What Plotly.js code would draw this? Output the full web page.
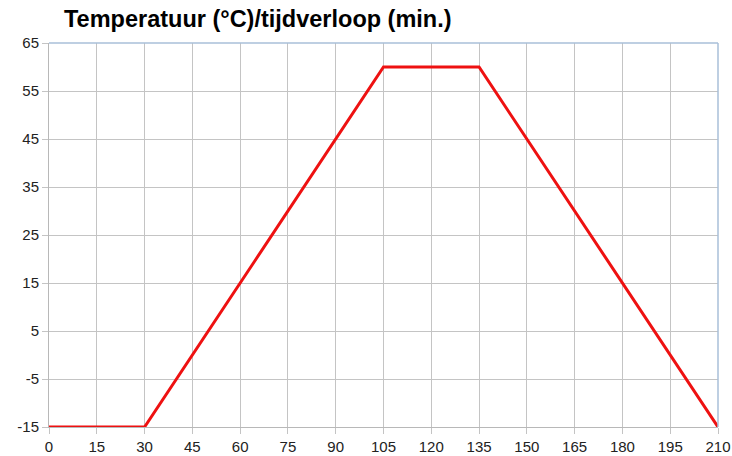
<!DOCTYPE html>
<html>
<head>
<meta charset="utf-8">
<script src="https://cdn.plot.ly/plotly-3.0.1.min.js"></script>
<style>html,body{margin:0;padding:0;background:#fff;}#chart{width:732px;height:456px;}</style>
</head>
<body>
<div id="chart"></div>
<script>
const timeMin = [0, 30, 105, 135, 210];
const tempC = [-15, -15, 60, 60, -15];
const xTicks = [0, 15, 30, 45, 60, 75, 90, 105, 120, 135, 150, 165, 180, 195, 210];
const yTicks = [-15, -5, 5, 15, 25, 35, 45, 55, 65];
const titleText = 'Temperatuur (°C)/tijdverloop (min.)';

const trace = {
  x: timeMin, y: tempC, type: 'scatter', mode: 'lines',
  line: {color: '#ee1111', width: 3}, hoverinfo: 'skip'
};
const layout = {
  width: 732, height: 456,
  margin: {l: 49, r: 14, t: 43, b: 29},
  paper_bgcolor: '#fff', plot_bgcolor: '#fff',
  showlegend: false,
  title: {text: '<b>' + titleText + '</b>', x: 64/732, xanchor: 'left', y: 1 - 19/456, yanchor: 'middle',
    font: {family: 'Liberation Sans, Arial, sans-serif', size: 23.5, color: '#000'}},
  xaxis: {range: [0, 210], tickvals: xTicks, ticktext: xTicks.map(String),
    showgrid: true, gridcolor: '#c4c4c4', gridwidth: 1, zeroline: false,
    ticks: 'outside', ticklen: 6, tickcolor: '#c4c4c4',
    showline: true, linecolor: '#b8b8b8', linewidth: 1,
    tickfont: {family: 'Liberation Sans, Arial, sans-serif', size: 15, color: '#222'}},
  yaxis: {range: [-15, 65], tickvals: yTicks, ticktext: yTicks.map(String),
    showgrid: true, gridcolor: '#c4c4c4', gridwidth: 1, zeroline: false,
    ticks: 'outside', ticklen: 6, tickcolor: '#c4c4c4',
    showline: true, linecolor: '#b8b8b8', linewidth: 1,
    tickfont: {family: 'Liberation Sans, Arial, sans-serif', size: 15, color: '#222'}},
  shapes: [
    {type: 'line', xref: 'paper', yref: 'paper', x0: 0, x1: 1, y0: 1, y1: 1, line: {color: '#a9bfd9', width: 1.5}},
    {type: 'line', xref: 'paper', yref: 'paper', x0: 1, x1: 1, y0: 0, y1: 1, line: {color: '#a9bfd9', width: 1.5}}
  ]
};
Plotly.newPlot('chart', [trace], layout, {displayModeBar: false, staticPlot: true});
</script>
</body>
</html>
